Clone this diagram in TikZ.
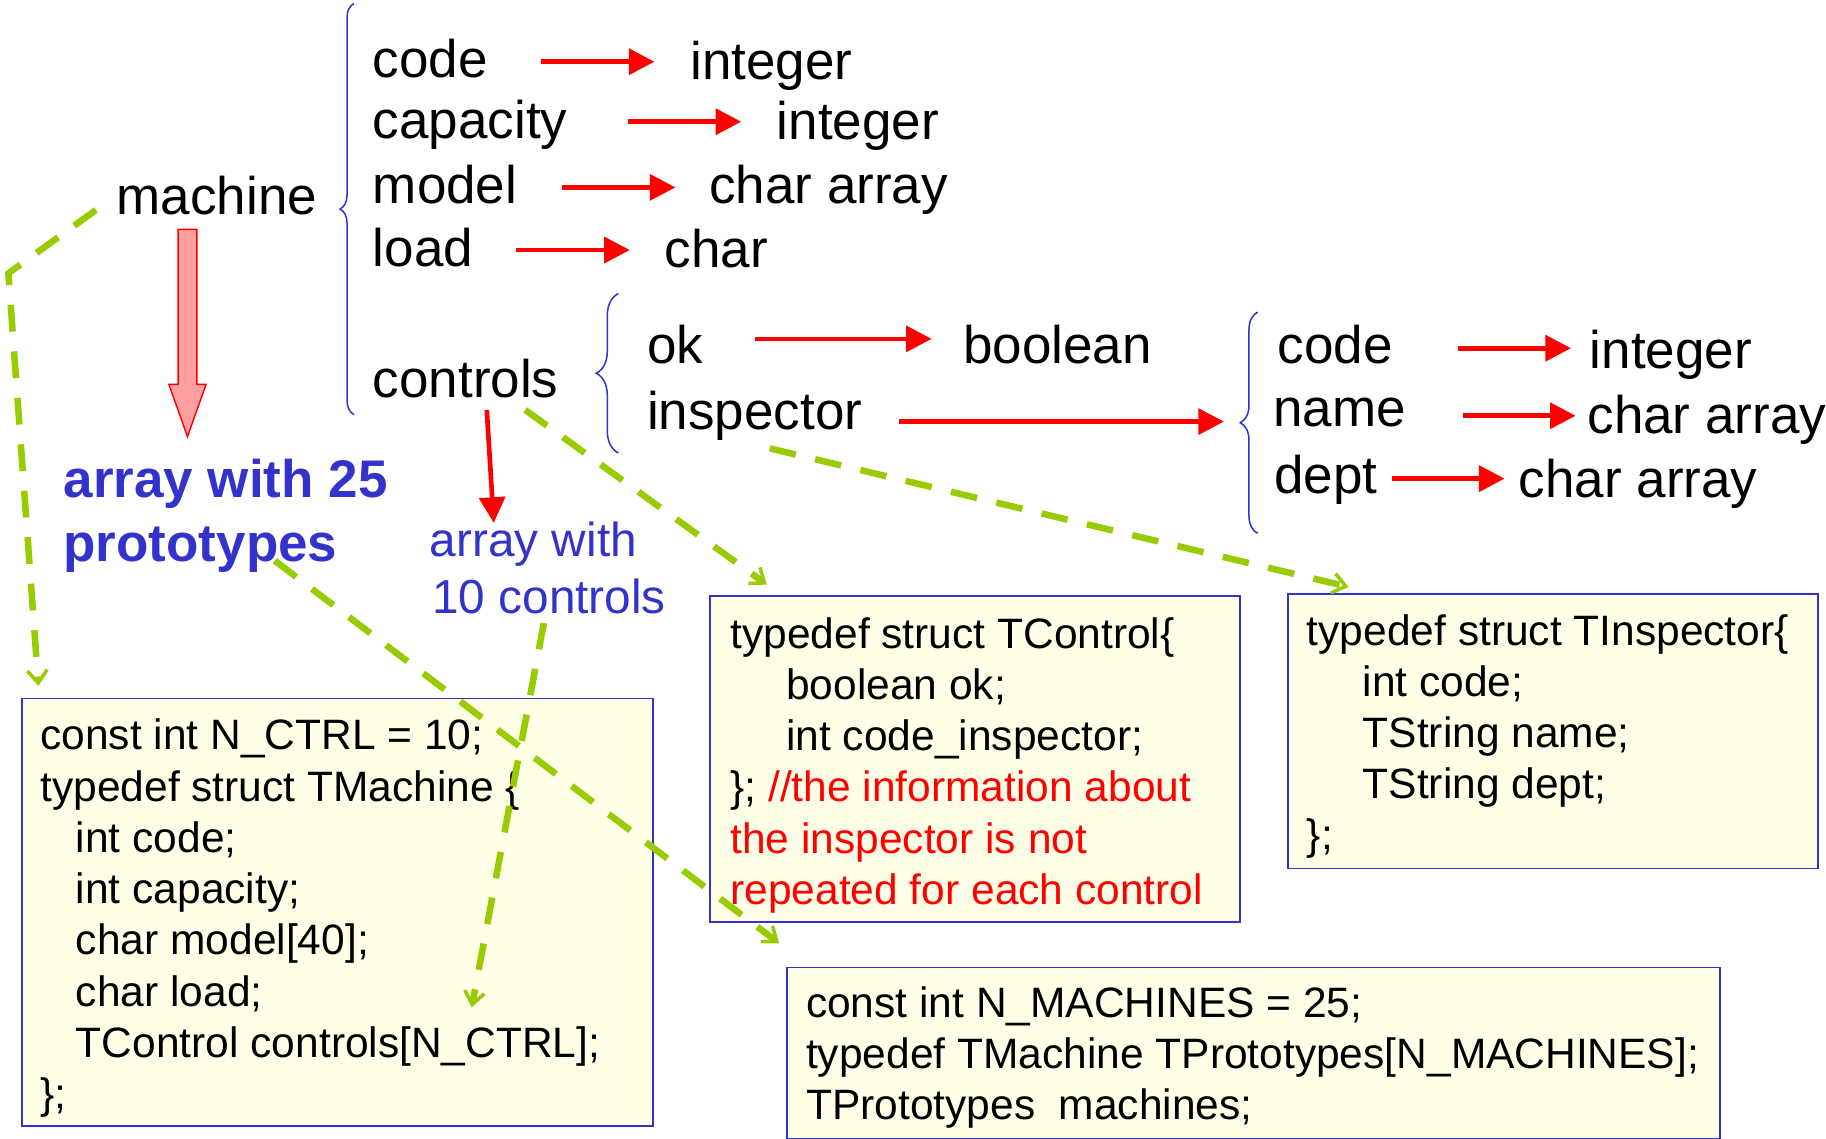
\documentclass[tikz,border=0pt]{standalone}
\usepackage{fontspec}
\setmainfont{Liberation Sans}
\usetikzlibrary{arrows.meta,decorations.pathreplacing}
\definecolor{typeblue}{HTML}{3333CC}
\definecolor{linkgreen}{HTML}{99CC00}
\definecolor{notefill}{HTML}{FFFFE8}
\definecolor{pinkfill}{HTML}{FFA0A0}
\definecolor{pure red}{HTML}{FF0000}

\begin{document}
\begin{tikzpicture}[x=1pt,y=-1pt,
  lbl/.style={anchor=base west, inner sep=0pt, font=\fontsize{45.5}{54.6}\selectfont},
  bluebold/.style={lbl, text=typeblue, font=\fontsize{45.5}{54.6}\selectfont\bfseries},
  bluelbl/.style={anchor=base west, inner sep=0pt, text=typeblue, font=\fontsize{41}{49}\selectfont},
  code/.style={anchor=base west, inner sep=0pt, font=\fontsize{36.5}{43.9}\selectfont},
  codebox/.style={draw=typeblue, fill=notefill, line width=1.6pt, anchor=north west, inner sep=0pt},
  typearrow/.style={draw=pure red, line width=4pt, -{Triangle[length=22pt,width=22pt]}},
  fieldbrace/.style={draw=typeblue, line width=1.3pt, decorate},
  link/.style={draw=linkgreen, line width=5.6pt, dash pattern=on 23pt off 17pt,
    -{Straight Barb[length=11pt,width=17pt,line width=3pt]}}
]
\useasboundingbox (0,0) rectangle (1568,978);

% ---------- struct declaration boxes ----------
\node[codebox, minimum width=542pt, minimum height=367pt] (boxA) at (18,599) {};
\node[codebox, minimum width=455pt, minimum height=280pt] (boxB) at (609,511) {};
\node[codebox, minimum width=455pt, minimum height=236pt] (boxC) at (1105,509) {};
\node[codebox, minimum width=801pt, minimum height=147pt] (boxD) at (675,830) {};

% TMachine
\node[code] (a1) at (34.5,644) {const int N\_CTRL = 10;};
\node[code] (a2) at (34.5,688) {typedef struct TMachine \{};
\node[code] (a3) at (65,732) {int code;};
\node[code] (a4) at (65,776) {int capacity;};
\node[code] (a5) at (65,820) {char model[40];};
\node[code] (a6) at (65,864) {char load;};
\node[code] (a7) at (65,908) {TControl controls[N\_CTRL];};
\node[code] (a8) at (34.5,952) {\};};

% TControl
\node[code] (b1) at (627,556.5) {typedef struct TControl\{};
\node[code] (b2) at (675,600.5) {boolean ok;};
\node[code] (b3) at (675,644.5) {int code\_inspector;};
\node[code] (b4) at (627,688.5) {\}; \textcolor{pure red}{//the information about}};
\node[code, text=pure red] (b5) at (627,732.5) {the inspector is not};
\node[code, text=pure red] (b6) at (627,776.5) {repeated for each control};

% TInspector
\node[code] (c1) at (1122,554.6) {typedef struct TInspector\{};
\node[code] (c2) at (1170,598.4) {int code;};
\node[code] (c3) at (1170,642.2) {TString name;};
\node[code] (c4) at (1170,686) {TString dept;};
\node[code] (c5) at (1122,729.8) {\};};

% TPrototypes
\node[code] (d1) at (692,874) {const int N\_MACHINES = 25;};
\node[code] (d2) at (692,917.8) {typedef TMachine TPrototypes[N\_MACHINES];};
\node[code] (d3) at (692,961.6) {TPrototypes~~machines;};

% ---------- machine record ----------
\node[lbl] (machine) at (100,184) {machine};
\draw[fieldbrace, decoration={brace, amplitude=12pt}] (304,356) -- (304,3);

\node[lbl] (code) at (320,66.4) {code};
\node[lbl] (capacity) at (320,118.8) {capacity};
\node[lbl] (model) at (320,174.6) {model};
\node[lbl] (load) at (320,229) {load};
\node[lbl] (controls) at (320,341) {controls};

\node[lbl] (tcode) at (592.7,68.1) {integer};
\node[lbl] (tcapacity) at (667,119.6) {integer};
\node[lbl] (tmodel) at (609,174.6) {char array};
\node[lbl] (tload) at (570.6,229.9) {char};

\coordinate (codeS) at (464.4,53);    \coordinate (codeE) at (562,53);
\coordinate (capS) at (539,104.5);    \coordinate (capE) at (636.5,104.5);
\coordinate (modS) at (483,160.9);    \coordinate (modE) at (580,160.9);
\coordinate (loadS) at (442.7,214.7); \coordinate (loadE) at (540.8,214.7);
\draw[typearrow] (codeS) -- (codeE);
\draw[typearrow] (capS) -- (capE);
\draw[typearrow] (modS) -- (modE);
\draw[typearrow] (loadS) -- (loadE);

% array of machines
\draw[draw=pure red, fill=pinkfill, line width=1.2pt]
  (153,197) -- (169,197) -- (169,330) -- (177,330) -- (161,375) -- (145,330) -- (153,330) -- cycle;
\node[bluebold] (arr25) at (54.4,427.4) {array with 25};
\node[bluebold] (protos) at (54.4,481.8) {prototypes};

% ---------- control record ----------
\draw[fieldbrace, decoration={brace, amplitude=19pt}] (531,389) -- (531,252);
\node[lbl] (ok) at (555.5,312) {ok};
\node[lbl] (inspector) at (555.5,369) {inspector};
\node[lbl] (tok) at (827,312) {boolean};
\coordinate (okS) at (648,291);   \coordinate (okE) at (800,291);
\coordinate (inspS) at (772,362); \coordinate (inspE) at (1051,362);
\draw[typearrow] (okS) -- (okE);
\draw[typearrow] (inspS) -- (inspE);

\coordinate (ctrlS) at (418,352); \coordinate (ctrlE) at (424,449);
\draw[typearrow] (ctrlS) -- (ctrlE);
\node[bluelbl] (arr10) at (369,478) {array with};
\node[bluelbl] (ctrl10) at (371,527) {10 controls};

% ---------- inspector record ----------
\draw[fieldbrace, decoration={brace, amplitude=15pt}] (1080,458) -- (1080,268);
\node[lbl] (icode) at (1097,312) {code};
\node[lbl] (iname) at (1093,366.5) {name};
\node[lbl] (idept) at (1094,424) {dept};
\node[lbl] (ticode) at (1365,316) {integer};
\node[lbl] (tiname) at (1363,372) {char array};
\node[lbl] (tidept) at (1304,427) {char array};
\coordinate (icS) at (1252,299); \coordinate (icE) at (1349,299);
\coordinate (inS) at (1256,357); \coordinate (inE) at (1353,357);
\coordinate (idS) at (1195,411); \coordinate (idE) at (1292,411);
\draw[typearrow] (icS) -- (icE);
\draw[typearrow] (inS) -- (inE);
\draw[typearrow] (idS) -- (idE);

% ---------- links from the fields to their declarations ----------
\coordinate (l1S) at (82.4,180.3); \coordinate (l1C) at (7.2,234.7); \coordinate (l1E) at (33,589);
\coordinate (l2S) at (236,481.5);  \coordinate (l2E) at (669,810);
\coordinate (l3S) at (467,535);    \coordinate (l3E) at (405,865);
\coordinate (l4S) at (451,352);    \coordinate (l4E) at (658.5,502);
\coordinate (l5S) at (661,385);    \coordinate (l5E) at (1158,504);
\draw[link] (l1S) -- (l1C) -- (l1E);
\draw[link] (l2S) -- (l2E);
\draw[link] (l3S) -- (l3E);
\draw[link] (l4S) -- (l4E);
\draw[link] (l5S) -- (l5E);
\end{tikzpicture}
\end{document}
